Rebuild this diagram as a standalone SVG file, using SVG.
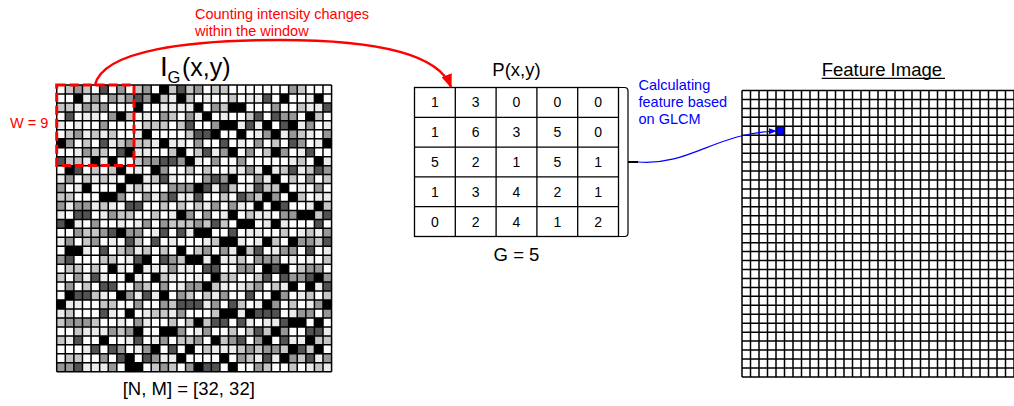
<svg xmlns="http://www.w3.org/2000/svg" width="1014" height="406" viewBox="0 0 1014 406">
<style>
text{font-family:"Liberation Sans",Arial,sans-serif}
.cell{fill:none;stroke-width:1;stroke-linecap:butt}
.l1{stroke:#ececec}.l2{stroke:#c6c6c6}.l3{stroke:#979797}.l4{stroke:#525252}.l5{stroke:#000}
.gl{fill:none;stroke:#000;stroke-width:1.5;vector-effect:non-scaling-stroke}
.tbl{fill:none;stroke:#000;stroke-width:1.3}
.num{font-size:14px;text-anchor:middle;fill:#000}
.lbl{font-size:18.5px;fill:#000}
.red{fill:#f00}
.blue{fill:#00f}
</style>
<defs>
<path id="grid32" class="gl" d="M0 0V32M1 0V32M2 0V32M3 0V32M4 0V32M5 0V32M6 0V32M7 0V32M8 0V32M9 0V32M10 0V32M11 0V32M12 0V32M13 0V32M14 0V32M15 0V32M16 0V32M17 0V32M18 0V32M19 0V32M20 0V32M21 0V32M22 0V32M23 0V32M24 0V32M25 0V32M26 0V32M27 0V32M28 0V32M29 0V32M30 0V32M31 0V32M32 0V32M0 0H32M0 1H32M0 2H32M0 3H32M0 4H32M0 5H32M0 6H32M0 7H32M0 8H32M0 9H32M0 10H32M0 11H32M0 12H32M0 13H32M0 14H32M0 15H32M0 16H32M0 17H32M0 18H32M0 19H32M0 20H32M0 21H32M0 22H32M0 23H32M0 24H32M0 25H32M0 26H32M0 27H32M0 28H32M0 29H32M0 30H32M0 31H32M0 32H32"/>
<!-- grey levels of the 32 x 32 input image, one path per level, in cell units -->
<g id="cells">
<path class="cell l1" d="M6 1.5h1M8 1.5h1M13 1.5h1M17 1.5h1M24 1.5h1M28 1.5h1M2 2.5h1M6 2.5h1M11 2.5h1M17 2.5h1M22 2.5h1M26 2.5h1M31 2.5h1M1 3.5h1M5 3.5h1M12 3.5h1M21 3.5h1M28 3.5h1M2 4.5h1M7 4.5h1M13 4.5h1M16 4.5h1M25 4.5h1M29 4.5h1M6 5.5h1M9 5.5h1M13 5.5h1M18 5.5h1M23 5.5h1M28 5.5h1M0 6.5h1M4 6.5h1M11 6.5h1M17 6.5h1M22 6.5h1M29 6.5h1M2 7.5h1M9 7.5h1M14 7.5h1M21 7.5h1M25 7.5h1M5 8.5h1M10 8.5h1M16 8.5h1M23 8.5h1M28 8.5h1M3 9.5h1M9 9.5h1M13 9.5h1M20 9.5h1M25 9.5h1M29 9.5h1M0 10.5h1M7 10.5h1M12 10.5h1M17 10.5h1M21 10.5h1M27 10.5h1M2 11.5h1M8 11.5h1M14 11.5h1M21 11.5h1M25 11.5h1M30 11.5h1M4 12.5h1M11 12.5h1M16 12.5h1M22 12.5h1M31 12.5h1M0 13.5h1M6 13.5h1M12 13.5h1M19 13.5h1M24 13.5h1M29 13.5h1M1 14.5h1M7 14.5h1M13 14.5h1M17 14.5h1M23 14.5h1M27 14.5h1M2 15.5h1M9 15.5h1M15 15.5h1M18 15.5h1M27 15.5h1M4 16.5h1M8 16.5h1M13 16.5h1M22 16.5h1M25 16.5h1M31 16.5h1M0 17.5h1M7 17.5h1M13 17.5h1M17 17.5h1M24 17.5h1M29 17.5h1M3 18.5h1M9 18.5h1M16 18.5h1M20 18.5h1M28 18.5h1M1 19.5h1M6 19.5h1M10 19.5h1M20 19.5h1M24 19.5h1M30 19.5h1M4 20.5h1M11 20.5h1M15 20.5h1M21 20.5h1M26 20.5h1M31 20.5h1M5 21.5h1M9 21.5h1M17 21.5h1M23 21.5h1M28 21.5h1M1 22.5h1M11 22.5h1M18 22.5h1M22 22.5h1M29 22.5h1M4 23.5h1M9 23.5h1M14 23.5h1M23 23.5h1M25 23.5h1M2 24.5h1M6 24.5h1M13 24.5h1M19 24.5h1M24 24.5h1M0 25.5h1M7 25.5h1M10 25.5h1M17 25.5h1M21 25.5h1M29 25.5h1M3 26.5h1M8 26.5h1M15 26.5h1M21 26.5h1M27 26.5h1M5 27.5h1M12 27.5h1M16 27.5h1M23 27.5h1M28 27.5h1M4 28.5h1M10 28.5h1M19 28.5h1M25 28.5h1M30 28.5h1M1 29.5h1M9 29.5h1M14 29.5h1M20 29.5h1M28 29.5h1M3 30.5h1M13 30.5h1M17 30.5h1M22 30.5h1M26 30.5h1M6 31.5h1M12 31.5h1M16 31.5h1M23 31.5h1M28 31.5h1"/>
<path class="cell l2" d="M1 0.5h1M9 0.5h1M14 0.5h1M17 0.5h1M19 0.5h1M25 0.5h1M28 0.5h1M31 0.5h1M15 1.5h1M20 1.5h1M26 1.5h1M31 1.5h1M1 2.5h1M7 2.5h1M12 2.5h1M19 2.5h1M25 2.5h1M8 3.5h1M17 3.5h1M22 3.5h1M30 3.5h1M4 4.5h1M11 4.5h1M21 4.5h1M26 4.5h1M0 5.5h1M12 5.5h1M19 5.5h1M25 5.5h1M31 5.5h1M3 6.5h1M9 6.5h1M15 6.5h1M21 6.5h1M28 6.5h1M5 7.5h1M12 7.5h1M17 7.5h1M23 7.5h1M27 7.5h1M2 8.5h1M9 8.5h1M19 8.5h1M25 8.5h1M0 9.5h1M6 9.5h1M12 9.5h1M18 9.5h1M24 9.5h1M31 9.5h1M4 10.5h1M10 10.5h1M16 10.5h1M23 10.5h1M28 10.5h1M3 11.5h1M9 11.5h1M20 11.5h1M27 11.5h1M1 12.5h1M7 12.5h1M13 12.5h1M19 12.5h1M25 12.5h1M5 13.5h1M11 13.5h1M16 13.5h1M23 13.5h1M26 13.5h1M4 14.5h1M8 14.5h1M15 14.5h1M22 14.5h1M30 14.5h1M1 15.5h1M11 15.5h1M17 15.5h1M24 15.5h1M31 15.5h1M6 16.5h1M12 16.5h1M18 16.5h1M28 16.5h1M3 17.5h1M9 17.5h1M14 17.5h1M22 17.5h1M28 17.5h1M5 18.5h1M8 18.5h1M15 18.5h1M21 18.5h1M26 18.5h1M0 19.5h1M11 19.5h1M16 19.5h1M23 19.5h1M29 19.5h1M2 20.5h1M12 20.5h1M19 20.5h1M25 20.5h1M1 21.5h1M7 21.5h1M13 21.5h1M20 21.5h1M26 21.5h1M3 22.5h1M8 22.5h1M14 22.5h1M21 22.5h1M28 22.5h1M6 23.5h1M12 23.5h1M16 23.5h1M24 23.5h1M31 23.5h1M0 24.5h1M10 24.5h1M17 24.5h1M23 24.5h1M29 24.5h1M4 25.5h1M14 25.5h1M19 25.5h1M26 25.5h1M7 26.5h1M12 26.5h1M17 26.5h1M24 26.5h1M31 26.5h1M2 27.5h1M8 27.5h1M15 27.5h1M20 27.5h1M27 27.5h1M1 28.5h1M7 28.5h1M11 28.5h1M16 28.5h1M22 28.5h1M31 28.5h1M6 29.5h1M13 29.5h1M18 29.5h1M24 29.5h1M29 29.5h1M2 30.5h1M8 30.5h1M19 30.5h1M25 30.5h1M4 31.5h1M10 31.5h1M17 31.5h1M22 31.5h1M27 31.5h1"/>
<path class="cell l3" d="M2 0.5h1M5 0.5h1M10 0.5h1M15 0.5h1M21 0.5h1M0 1.5h1M12 1.5h1M21 1.5h1M30 1.5h1M3 2.5h1M14 2.5h1M23 2.5h1M28 2.5h1M0 3.5h1M10 3.5h1M18 3.5h1M26 3.5h1M31 3.5h1M6 4.5h1M14 4.5h1M23 4.5h1M2 5.5h1M10 5.5h1M16 5.5h1M27 5.5h1M5 6.5h1M13 6.5h1M19 6.5h1M25 6.5h1M30 6.5h1M1 7.5h1M8 7.5h1M18 7.5h1M28 7.5h1M4 8.5h1M11 8.5h1M14 8.5h1M21 8.5h1M29 8.5h1M8 9.5h1M16 9.5h1M26 9.5h1M1 10.5h1M6 10.5h1M13 10.5h1M19 10.5h1M24 10.5h1M7 11.5h1M11 11.5h1M17 11.5h1M22 11.5h1M31 11.5h1M3 12.5h1M8 12.5h1M15 12.5h1M21 12.5h1M26 12.5h1M2 13.5h1M7 13.5h1M14 13.5h1M20 13.5h1M28 13.5h1M0 14.5h1M10 14.5h1M18 14.5h1M24 14.5h1M31 14.5h1M5 15.5h1M12 15.5h1M21 15.5h1M26 15.5h1M2 16.5h1M9 16.5h1M16 16.5h1M23 16.5h1M30 16.5h1M6 17.5h1M12 17.5h1M19 17.5h1M25 17.5h1M1 18.5h1M10 18.5h1M18 18.5h1M24 18.5h1M30 18.5h1M3 19.5h1M7 19.5h1M13 19.5h1M17 19.5h1M27 19.5h1M6 20.5h1M8 20.5h1M17 20.5h1M22 20.5h1M29 20.5h1M2 21.5h1M10 21.5h1M16 21.5h1M25 21.5h1M5 22.5h1M9 22.5h1M13 22.5h1M19 22.5h1M26 22.5h1M31 22.5h1M1 23.5h1M11 23.5h1M18 23.5h1M30 23.5h1M3 24.5h1M9 24.5h1M14 24.5h1M22 24.5h1M26 24.5h1M6 25.5h1M11 25.5h1M16 25.5h1M25 25.5h1M2 26.5h1M9 26.5h1M19 26.5h1M28 26.5h1M0 27.5h1M11 27.5h1M18 27.5h1M24 27.5h1M30 27.5h1M5 28.5h1M13 28.5h1M20 28.5h1M26 28.5h1M3 29.5h1M8 29.5h1M15 29.5h1M21 29.5h1M27 29.5h1M4 30.5h1M10 30.5h1M16 30.5h1M23 30.5h1M29 30.5h1M0 31.5h1M7 31.5h1M13 31.5h1M19 31.5h1M26 31.5h1M31 31.5h1"/>
<path class="cell l4" d="M11 0.5h1M23 0.5h1M9 1.5h1M27 1.5h1M16 2.5h1M3 3.5h1M13 3.5h1M19 3.5h1M8 4.5h1M18 4.5h1M31 4.5h1M5 5.5h1M24 5.5h1M1 6.5h1M10 6.5h1M23 6.5h1M6 7.5h1M15 7.5h1M24 7.5h1M7 8.5h1M17 8.5h1M26 8.5h1M2 9.5h1M10 9.5h1M22 9.5h1M14 10.5h1M26 10.5h1M1 11.5h1M13 11.5h1M24 11.5h1M5 12.5h1M17 12.5h1M29 12.5h1M9 13.5h1M18 13.5h1M30 13.5h1M2 14.5h1M16 14.5h1M28 14.5h1M7 15.5h1M14 15.5h1M22 15.5h1M0 16.5h1M11 16.5h1M20 16.5h1M26 16.5h1M4 17.5h1M16 17.5h1M30 17.5h1M6 18.5h1M13 18.5h1M23 18.5h1M9 19.5h1M19 19.5h1M26 19.5h1M3 20.5h1M14 20.5h1M24 20.5h1M6 21.5h1M12 21.5h1M18 21.5h1M27 21.5h1M0 22.5h1M16 22.5h1M23 22.5h1M2 23.5h1M8 23.5h1M21 23.5h1M28 23.5h1M5 24.5h1M11 24.5h1M20 24.5h1M31 24.5h1M3 25.5h1M13 25.5h1M23 25.5h1M27 25.5h1M1 26.5h1M14 26.5h1M18 26.5h1M29 26.5h1M6 27.5h1M13 27.5h1M22 27.5h1M2 28.5h1M9 28.5h1M18 28.5h1M29 28.5h1M0 29.5h1M12 29.5h1M17 29.5h1M25 29.5h1M6 30.5h1M15 30.5h1M21 30.5h1M27 30.5h1M2 31.5h1M14 31.5h1M24 31.5h1"/>
<path class="cell l5" d="M26 0.5h1M2 1.5h1M4 1.5h1M11 1.5h1M18 1.5h1M22 1.5h1M5 2.5h1M9 2.5h1M20 2.5h1M29 2.5h1M6 3.5h1M15 3.5h1M24 3.5h1M1 4.5h1M10 4.5h1M20 4.5h1M27 4.5h1M3 5.5h1M14 5.5h1M21 5.5h1M29 5.5h1M7 6.5h1M16 6.5h1M26 6.5h1M3 7.5h1M11 7.5h1M20 7.5h1M30 7.5h1M0 8.5h1M12 8.5h1M22 8.5h1M31 8.5h1M4 9.5h1M15 9.5h1M19 9.5h1M27 9.5h1M3 10.5h1M9 10.5h1M20 10.5h1M30 10.5h1M5 11.5h1M15 11.5h1M18 11.5h1M28 11.5h1M0 12.5h1M10 12.5h1M23 12.5h1M27 12.5h1M3 13.5h1M13 13.5h1M22 13.5h1M6 14.5h1M11 14.5h1M20 14.5h1M25 14.5h1M3 15.5h1M8 15.5h1M19 15.5h1M29 15.5h1M5 16.5h1M15 16.5h1M24 16.5h1M1 17.5h1M10 17.5h1M20 17.5h1M27 17.5h1M2 18.5h1M11 18.5h1M19 18.5h1M29 18.5h1M5 19.5h1M14 19.5h1M21 19.5h1M31 19.5h1M0 20.5h1M9 20.5h1M18 20.5h1M27 20.5h1M4 21.5h1M14 21.5h1M22 21.5h1M30 21.5h1M6 22.5h1M10 22.5h1M24 22.5h1M3 23.5h1M15 23.5h1M19 23.5h1M26 23.5h1M7 24.5h1M16 24.5h1M27 24.5h1M1 25.5h1M8 25.5h1M20 25.5h1M30 25.5h1M5 26.5h1M10 26.5h1M22 26.5h1M25 26.5h1M3 27.5h1M9 27.5h1M17 27.5h1M26 27.5h1M6 28.5h1M14 28.5h1M23 28.5h1M27 28.5h1M4 29.5h1M10 29.5h1M22 29.5h1M31 29.5h1M1 30.5h1M11 30.5h1M18 30.5h1M30 30.5h1M5 31.5h1M9 31.5h1M20 31.5h1M30 31.5h1"/>
</g>
<marker id="ah-red" viewBox="0 0 10 10" refX="9" refY="5" markerWidth="14" markerHeight="11" orient="auto" markerUnits="userSpaceOnUse" preserveAspectRatio="none">
<path d="M0 0L10 5L0 10z" fill="#f00"/>
</marker>
<marker id="ah-blue" viewBox="0 0 10 10" refX="9" refY="5" markerWidth="8" markerHeight="6" orient="auto" markerUnits="userSpaceOnUse" preserveAspectRatio="none">
<path d="M0 0L10 5L0 10z" fill="#00f"/>
</marker>
</defs>
<rect width="1014" height="406" fill="#fff"/>

<!-- input image I_G(x,y) -->
<g id="input-image">
<text x="160" y="76" style="font-size:28px">I</text>
<text x="167.5" y="83" style="font-size:16.5px">G</text>
<text x="182" y="76" style="font-size:25px">(x,y)</text>
<g transform="translate(56.7 85) scale(8.59 8.96)">
<!-- each image column j is taken from stored column s(j) -->
<svg x="0" width="1" height="32" viewBox="7 0 1 32" preserveAspectRatio="none"><use href="#cells"/></svg>
<svg x="1" width="1" height="32" viewBox="19 0 1 32" preserveAspectRatio="none"><use href="#cells"/></svg>
<svg x="2" width="1" height="32" viewBox="2 0 1 32" preserveAspectRatio="none"><use href="#cells"/></svg>
<svg x="3" width="1" height="32" viewBox="28 0 1 32" preserveAspectRatio="none"><use href="#cells"/></svg>
<svg x="4" width="1" height="32" viewBox="12 0 1 32" preserveAspectRatio="none"><use href="#cells"/></svg>
<svg x="5" width="1" height="32" viewBox="23 0 1 32" preserveAspectRatio="none"><use href="#cells"/></svg>
<svg x="6" width="1" height="32" viewBox="0 0 1 32" preserveAspectRatio="none"><use href="#cells"/></svg>
<svg x="7" width="1" height="32" viewBox="15 0 1 32" preserveAspectRatio="none"><use href="#cells"/></svg>
<svg x="8" width="1" height="32" viewBox="30 0 1 32" preserveAspectRatio="none"><use href="#cells"/></svg>
<svg x="9" width="1" height="32" viewBox="9 0 1 32" preserveAspectRatio="none"><use href="#cells"/></svg>
<svg x="10" width="1" height="32" viewBox="21 0 1 32" preserveAspectRatio="none"><use href="#cells"/></svg>
<svg x="11" width="1" height="32" viewBox="4 0 1 32" preserveAspectRatio="none"><use href="#cells"/></svg>
<svg x="12" width="1" height="32" viewBox="26 0 1 32" preserveAspectRatio="none"><use href="#cells"/></svg>
<svg x="13" width="1" height="32" viewBox="17 0 1 32" preserveAspectRatio="none"><use href="#cells"/></svg>
<svg x="14" width="1" height="32" viewBox="11 0 1 32" preserveAspectRatio="none"><use href="#cells"/></svg>
<svg x="15" width="1" height="32" viewBox="31 0 1 32" preserveAspectRatio="none"><use href="#cells"/></svg>
<svg x="16" width="1" height="32" viewBox="5 0 1 32" preserveAspectRatio="none"><use href="#cells"/></svg>
<svg x="17" width="1" height="32" viewBox="24 0 1 32" preserveAspectRatio="none"><use href="#cells"/></svg>
<svg x="18" width="1" height="32" viewBox="14 0 1 32" preserveAspectRatio="none"><use href="#cells"/></svg>
<svg x="19" width="1" height="32" viewBox="1 0 1 32" preserveAspectRatio="none"><use href="#cells"/></svg>
<svg x="20" width="1" height="32" viewBox="20 0 1 32" preserveAspectRatio="none"><use href="#cells"/></svg>
<svg x="21" width="1" height="32" viewBox="29 0 1 32" preserveAspectRatio="none"><use href="#cells"/></svg>
<svg x="22" width="1" height="32" viewBox="8 0 1 32" preserveAspectRatio="none"><use href="#cells"/></svg>
<svg x="23" width="1" height="32" viewBox="13 0 1 32" preserveAspectRatio="none"><use href="#cells"/></svg>
<svg x="24" width="1" height="32" viewBox="27 0 1 32" preserveAspectRatio="none"><use href="#cells"/></svg>
<svg x="25" width="1" height="32" viewBox="3 0 1 32" preserveAspectRatio="none"><use href="#cells"/></svg>
<svg x="26" width="1" height="32" viewBox="18 0 1 32" preserveAspectRatio="none"><use href="#cells"/></svg>
<svg x="27" width="1" height="32" viewBox="10 0 1 32" preserveAspectRatio="none"><use href="#cells"/></svg>
<svg x="28" width="1" height="32" viewBox="25 0 1 32" preserveAspectRatio="none"><use href="#cells"/></svg>
<svg x="29" width="1" height="32" viewBox="6 0 1 32" preserveAspectRatio="none"><use href="#cells"/></svg>
<svg x="30" width="1" height="32" viewBox="22 0 1 32" preserveAspectRatio="none"><use href="#cells"/></svg>
<svg x="31" width="1" height="32" viewBox="16 0 1 32" preserveAspectRatio="none"><use href="#cells"/></svg>
<use href="#grid32"/>
</g>
<text class="lbl" x="122.7" y="395">[N, M] = [32, 32]</text>
</g>

<!-- 9 x 9 analysis window -->
<g id="window">
<rect x="56.7" y="85" width="77.3" height="80.6" fill="none" stroke="#f00" stroke-width="3" stroke-dasharray="9 4"/>
<text class="red" x="10" y="128" style="font-size:14.5px">W = 9</text>
</g>

<!-- co-occurrence matrix P(x,y) -->
<g id="glcm">
<text class="lbl" x="516.5" y="76" text-anchor="middle">P(x,y)</text>
<rect class="tbl" x="414.5" y="87.5" width="204" height="149"/>
<path class="tbl" d="M455.3 87.5V236.5M496.1 87.5V236.5M536.9 87.5V236.5M577.7 87.5V236.5M414.5 117.3H618.5M414.5 147.1H618.5M414.5 176.9H618.5M414.5 206.7H618.5"/>
<g class="num">
<text x="434.9" y="107.4">1</text><text x="475.7" y="107.4">3</text><text x="516.5" y="107.4">0</text><text x="557.3" y="107.4">0</text><text x="598.1" y="107.4">0</text>
<text x="434.9" y="137.2">1</text><text x="475.7" y="137.2">6</text><text x="516.5" y="137.2">3</text><text x="557.3" y="137.2">5</text><text x="598.1" y="137.2">0</text>
<text x="434.9" y="167">5</text><text x="475.7" y="167">2</text><text x="516.5" y="167">1</text><text x="557.3" y="167">5</text><text x="598.1" y="167">1</text>
<text x="434.9" y="196.8">1</text><text x="475.7" y="196.8">3</text><text x="516.5" y="196.8">4</text><text x="557.3" y="196.8">2</text><text x="598.1" y="196.8">1</text>
<text x="434.9" y="226.6">0</text><text x="475.7" y="226.6">2</text><text x="516.5" y="226.6">4</text><text x="557.3" y="226.6">1</text><text x="598.1" y="226.6">2</text>
</g>
<path d="M618.5 87.5h6q3.5 0 3.5 3.5V233q0 3.5-3.5 3.5h-6" fill="none" stroke="#000" stroke-width="1.2"/>
<path d="M628 162h10" stroke="#000" stroke-width="2"/>
<text class="lbl" x="516.5" y="261" text-anchor="middle">G = 5</text>
</g>

<!-- output feature image -->
<g id="feature-image">
<text class="lbl" x="821.7" y="75.5">Feature Image</text>
<path d="M821.7 78.3H945" stroke="#000" stroke-width="1.2"/>
<g transform="translate(742 90.5) scale(8.5 8.95)">
<rect x="4" y="4" width="1" height="1" fill="#00f"/>
<use href="#grid32"/>
</g>
</g>

<!-- connectors -->
<g id="connectors" fill="none">
<path d="M95 85C103 50 190 40 280 40C370 40 438 52 451 87" stroke="#f00" stroke-width="2.5" marker-end="url(#ah-red)"/>
<path d="M638 162C690 166 715 133 776 131" stroke="#00f" stroke-width="1.2" marker-end="url(#ah-blue)"/>
</g>
<g id="connector-labels" style="font-size:14.5px">
<text class="red" x="195" y="19">Counting intensity changes</text>
<text class="red" x="195" y="36">within the window</text>
<text class="blue" x="638.5" y="89.5">Calculating</text>
<text class="blue" x="638.5" y="106.8">feature based</text>
<text class="blue" x="638.5" y="124">on GLCM</text>
</g>
</svg>
